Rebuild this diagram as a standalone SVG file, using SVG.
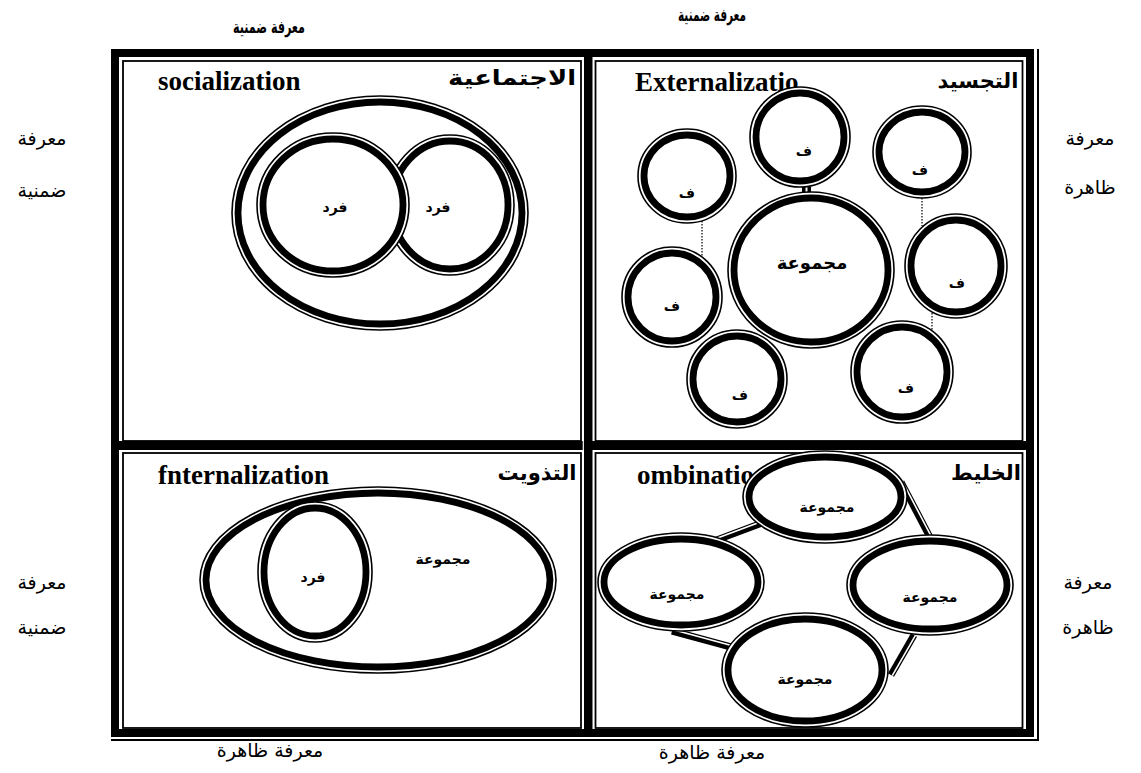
<svg xmlns="http://www.w3.org/2000/svg" width="1141" height="773" viewBox="0 0 1141 773">
<style>
.o{fill:#fff;stroke:#000;stroke-width:1.6}
.i{fill:none;stroke:#000;stroke-width:6.8}
.cell{fill:none;stroke:#000;stroke-width:1.8}
.en{font-family:"Liberation Serif",serif;font-weight:bold;font-size:27px;fill:#000}
.art{font-family:"DejaVu Sans",sans-serif;font-weight:bold;font-size:21px;fill:#000;text-anchor:middle}
.lbl{font-family:"DejaVu Sans",sans-serif;font-weight:bold;font-size:14px;fill:#000;text-anchor:middle}
.big{font-family:"DejaVu Sans",sans-serif;font-weight:bold;font-size:18px;fill:#000;text-anchor:middle}
.side{font-family:"DejaVu Sans",sans-serif;font-size:19px;fill:#000;text-anchor:middle}
.topl{font-family:"DejaVu Sans Condensed","DejaVu Sans",sans-serif;font-weight:bold;font-size:18px;fill:#000;text-anchor:middle}
.dot{stroke:#000;stroke-width:1.2;stroke-dasharray:1.5 1.5;fill:none}
.cb{stroke:#000;stroke-width:7;fill:none}
.cw{stroke:#fff;stroke-width:1.6;fill:none}
</style>
<rect x="0" y="0" width="1141" height="773" fill="#fff"/>

<g id="labels-outside">
<text class="topl" x="269" y="33" textLength="72" lengthAdjust="spacingAndGlyphs">معرفة ضمنية</text>
<text class="topl" x="712" y="21" textLength="68" lengthAdjust="spacingAndGlyphs">معرفة ضمنية</text>
<text class="side" x="42" y="145">معرفة</text>
<text class="side" x="42" y="197">ضمنية</text>
<text class="side" x="42" y="589">معرفة</text>
<text class="side" x="42" y="634">ضمنية</text>
<text class="side" x="1090" y="145">معرفة</text>
<text class="side" x="1090" y="194">ظاهرة</text>
<text class="side" x="1088" y="589">معرفة</text>
<text class="side" x="1088" y="634">ظاهرة</text>
<text class="side" x="270" y="757">معرفة ظاهرة</text>
<text class="side" x="712" y="759">معرفة ظاهرة</text>
</g>

<g id="frame">
<rect x="115" y="53" width="915" height="680" fill="none" stroke="#000" stroke-width="8"/>
<line x1="1038" y1="49" x2="1038" y2="741" stroke="#000" stroke-width="2"/>
<line x1="111" y1="740" x2="1039" y2="740" stroke="#000" stroke-width="2"/>
<rect x="584" y="57" width="8.5" height="673" fill="#000"/>
<rect x="119" y="441" width="907" height="9" fill="#000"/>
<rect class="cell" x="123" y="61" width="458" height="380"/>
<rect class="cell" x="595.5" y="61" width="427" height="380"/>
<rect class="cell" x="123" y="453" width="458" height="275"/>
<rect class="cell" x="595.5" y="453" width="427" height="275"/>
<line x1="583.3" y1="441" x2="583.3" y2="452" stroke="#fff" stroke-width="1.2"/>
<line x1="580" y1="451" x2="584" y2="451" stroke="#fff" stroke-width="1.2"/>
</g>

<g id="tl-title">
<text class="en" x="158" y="90">socialization</text>
<text class="art" x="512" y="85" textLength="128" lengthAdjust="spacingAndGlyphs">الاجتماعية</text>
</g>
<g id="tl-outer">
<ellipse class="o" cx="380" cy="213" rx="148" ry="117"/>
<ellipse class="i" cx="380" cy="213" rx="142" ry="111"/>
</g>
<g id="tl-fard-right">
<ellipse class="o" cx="450" cy="205" rx="64" ry="70"/>
<ellipse class="i" cx="450" cy="205" rx="58" ry="64"/>
<text class="lbl" x="438" y="212">فرد</text>
</g>
<g id="tl-fard-left">
<ellipse class="o" cx="333" cy="205" rx="76" ry="72"/>
<ellipse class="i" cx="333" cy="205" rx="70" ry="66"/>
<text class="lbl" x="335" y="212">فرد</text>
</g>

<g id="tr-title">
<text class="en" x="635" y="91">Externalizatio</text>
<text class="art" x="978" y="88">التجسيد</text>
</g>
<g id="tr-connectors">
<line class="dot" x1="702" y1="221" x2="702" y2="257"/>
<line class="dot" x1="922" y1="198" x2="922" y2="226"/>
<line class="dot" x1="932" y1="313" x2="932" y2="331"/>
<rect x="802" y="187" width="3.5" height="11" fill="#000"/>
<rect x="807.5" y="187" width="3.5" height="11" fill="#000"/>
</g>
<g id="tr-f-topleft">
<ellipse class="o" cx="687" cy="176" rx="49" ry="47"/>
<ellipse class="i" cx="687" cy="176" rx="43" ry="41"/>
<text class="lbl" x="687" y="198">ف</text>
</g>
<g id="tr-f-top">
<ellipse class="o" cx="800" cy="137" rx="50" ry="50"/>
<ellipse class="i" cx="800" cy="137" rx="44" ry="44"/>
<text class="lbl" x="804" y="156">ف</text>
</g>
<g id="tr-f-topright">
<ellipse class="o" cx="922" cy="152" rx="49" ry="46"/>
<ellipse class="i" cx="922" cy="152" rx="43" ry="40"/>
<text class="lbl" x="920" y="175">ف</text>
</g>
<g id="tr-group">
<ellipse class="o" cx="811" cy="270" rx="83" ry="78"/>
<ellipse class="i" cx="811" cy="270" rx="77" ry="72"/>
<text class="big" x="812" y="269">مجموعة</text>
</g>
<g id="tr-f-left">
<ellipse class="o" cx="672" cy="297" rx="50" ry="50"/>
<ellipse class="i" cx="672" cy="297" rx="44" ry="44"/>
<text class="lbl" x="672" y="311">ف</text>
</g>
<g id="tr-f-right">
<ellipse class="o" cx="956" cy="266" rx="51" ry="52"/>
<ellipse class="i" cx="956" cy="266" rx="45" ry="46"/>
<text class="lbl" x="957" y="288">ف</text>
</g>
<g id="tr-f-bottomleft">
<ellipse class="o" cx="737" cy="379" rx="50" ry="49"/>
<ellipse class="i" cx="737" cy="379" rx="44" ry="43"/>
<text class="lbl" x="740" y="400">ف</text>
</g>
<g id="tr-f-bottomright">
<ellipse class="o" cx="902" cy="372" rx="51" ry="51"/>
<ellipse class="i" cx="902" cy="372" rx="45" ry="45"/>
<text class="lbl" x="906" y="393">ف</text>
</g>

<g id="bl-title">
<text class="en" x="158" y="484">fnternalization</text>
<text class="art" x="537" y="480">التذويت</text>
</g>
<g id="bl-group">
<ellipse class="o" cx="378" cy="580" rx="178" ry="93"/>
<ellipse class="i" cx="378" cy="580" rx="172" ry="87"/>
<text class="lbl" x="443" y="564">مجموعة</text>
</g>
<g id="bl-fard">
<ellipse class="o" cx="315" cy="572" rx="57" ry="70"/>
<ellipse class="i" cx="315" cy="572" rx="51" ry="64"/>
<text class="lbl" x="313" y="582">فرد</text>
</g>

<g id="br-title">
<text class="en" x="637" y="484">ombinatio</text>
<text class="art" x="986" y="480">الخليط</text>
</g>
<g id="br-connectors">
<line class="cb" x1="770" y1="520" x2="714" y2="541"/>
<line class="cw" x1="769.5" y1="518.6" x2="713.5" y2="539.6"/>
<line class="cb" x1="901" y1="482" x2="934" y2="545"/>
<line class="cw" x1="902.4" y1="481.3" x2="935.4" y2="544.3"/>
<line class="cb" x1="672" y1="631" x2="731" y2="647"/>
<line class="cw" x1="672.4" y1="629.6" x2="731.4" y2="645.6"/>
<line class="cb" x1="914" y1="635" x2="891" y2="675"/>
<line class="cw" x1="915.3" y1="635.7" x2="892.3" y2="675.7"/>
</g>
<g id="br-top">
<ellipse class="o" cx="825" cy="497" rx="82" ry="46"/>
<ellipse class="i" cx="825" cy="497" rx="76" ry="40"/>
<text class="lbl" x="827" y="512">مجموعة</text>
</g>
<g id="br-left">
<ellipse class="o" cx="681" cy="582" rx="83" ry="49"/>
<ellipse class="i" cx="681" cy="582" rx="77" ry="43"/>
<text class="lbl" x="677" y="599">مجموعة</text>
</g>
<g id="br-right">
<ellipse class="o" cx="930" cy="585" rx="83" ry="50"/>
<ellipse class="i" cx="930" cy="585" rx="77" ry="44"/>
<text class="lbl" x="930" y="602">مجموعة</text>
</g>
<g id="br-bottom">
<ellipse class="o" cx="805" cy="670" rx="83" ry="57"/>
<ellipse class="i" cx="805" cy="670" rx="77" ry="51"/>
<text class="lbl" x="805" y="684">مجموعة</text>
</g>
</svg>
